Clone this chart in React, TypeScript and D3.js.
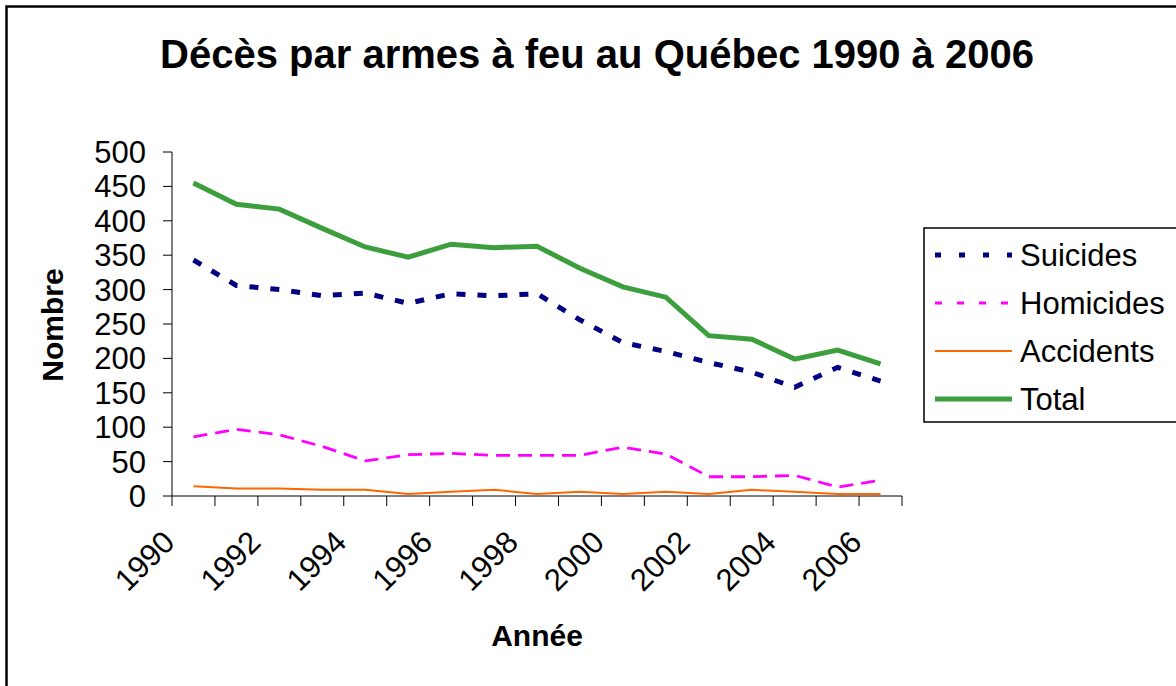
import React from "react";
import * as d3 from "d3";

const years = [1990, 1991, 1992, 1993, 1994, 1995, 1996, 1997, 1998, 1999, 2000, 2001, 2002, 2003, 2004, 2005, 2006];
const suicides = [343, 306, 300, 291, 295, 280, 294, 291, 294, 256, 223, 210, 194, 180, 158, 187, 167];
const homicides = [86, 97, 89, 72, 51, 60, 62, 59, 59, 59, 71, 61, 28, 28, 30, 13, 23];
const accidents = [14, 11, 11, 9, 9, 3, 6, 9, 3, 6, 3, 6, 3, 9, 6, 3, 3];
const total = [455, 424, 417, 389, 362, 347, 366, 361, 363, 331, 304, 289, 233, 228, 199, 212, 192];
const yTicks = [0, 50, 100, 150, 200, 250, 300, 350, 400, 450, 500];
const xLabels = [1990, 1992, 1994, 1996, 1998, 2000, 2002, 2004, 2006];
const seriesNames = ["Suicides", "Homicides", "Accidents", "Total"];

const FONT = "'Liberation Sans', Arial, sans-serif";

const styles = [
  { color: "#000080", width: 5, dash: "9,12" as string | null },
  { color: "#FF00FF", width: 2.8, dash: "14,8" as string | null },
  { color: "#FF6600", width: 2, dash: null as string | null },
  { color: "#3C9E3C", width: 5, dash: null as string | null },
];
const legendDash = ["6,18", "7,15", null, null];

export default function App() {
  const x = d3.scaleBand<number>().domain(years).range([172, 902]).padding(0);
  const y = d3.scaleLinear().domain([0, 500]).range([496, 152]);
  const bw = x.bandwidth();
  const cx = (yr: number) => (x(yr) as number) + bw / 2;
  const data = [suicides, homicides, accidents, total];
  const line = d3
    .line<number>()
    .x((_, i) => cx(years[i]))
    .y((v) => y(v));

  const boundaries = years.map((yr) => x(yr) as number).concat([902]);

  return (
    <svg
      width={1176}
      height={686}
      style={{ position: "absolute", left: 0, top: 0, background: "#fff" }}
      fontFamily={FONT}
    >
      <rect x={0} y={0} width={1176} height={686} fill="#fff" />
      <rect x={6.5} y={6.5} width={1220} height={720} fill="none" stroke="#000" strokeWidth={2.5} />

      <text x={597} y={68} textAnchor="middle" fontSize={40} fontWeight="bold" fill="#000">
        Décès par armes à feu au Québec 1990 à 2006
      </text>

      {/* Y axis */}
      <line x1={172} x2={172} y1={y(500)} y2={y(0)} stroke="#000" strokeWidth={1} />
      {yTicks.map((t) => (
        <g key={t}>
          <line x1={163} x2={172} y1={y(t)} y2={y(t)} stroke="#000" strokeWidth={1} />
          <text x={146} y={y(t) + 11} textAnchor="end" fontSize={31} fill="#000">
            {t}
          </text>
        </g>
      ))}

      {/* X axis */}
      <line x1={172} x2={902} y1={y(0)} y2={y(0)} stroke="#000" strokeWidth={1} />
      {boundaries.map((b, i) => (
        <line key={i} x1={b} x2={b} y1={y(0)} y2={y(0) + 10} stroke="#000" strokeWidth={1} />
      ))}
      {xLabels.map((yr) => {
        const ax = cx(yr) - 17;
        const ay = 544;
        return (
          <text
            key={yr}
            x={ax}
            y={ay}
            textAnchor="end"
            fontSize={31}
            fill="#000"
            transform={`rotate(-45, ${ax}, ${ay})`}
          >
            {yr}
          </text>
        );
      })}

      <text x={537} y={646} textAnchor="middle" fontSize={30} fontWeight="bold" fill="#000">
        Année
      </text>
      <text
        x={0}
        y={0}
        textAnchor="middle"
        fontSize={30}
        fontWeight="bold"
        fill="#000"
        transform={`translate(63, 325) rotate(-90)`}
      >
        Nombre
      </text>

      {/* Series */}
      {data.map((vals, i) => (
        <path
          key={i}
          d={line(vals) as string}
          fill="none"
          stroke={styles[i].color}
          strokeWidth={styles[i].width}
          strokeDasharray={styles[i].dash ?? undefined}
          strokeLinejoin="miter"
        />
      ))}

      {/* Legend */}
      <rect x={924} y={228} width={270} height={194} fill="#fff" stroke="#000" strokeWidth={1.5} />
      {seriesNames.map((name, i) => {
        const ly = 255 + i * 48;
        return (
          <g key={name}>
            <line
              x1={935}
              x2={1012}
              y1={ly}
              y2={ly}
              stroke={styles[i].color}
              strokeWidth={styles[i].width}
              strokeDasharray={legendDash[i] ?? undefined}
            />
            <text x={1020} y={ly + 11} fontSize={31} fill="#000">
              {name}
            </text>
          </g>
        );
      })}
    </svg>
  );
}
